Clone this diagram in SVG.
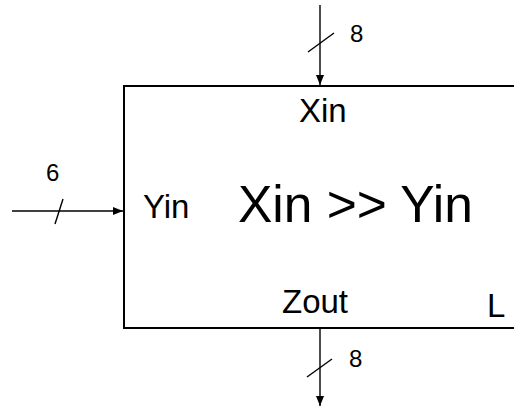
<svg xmlns="http://www.w3.org/2000/svg" width="514" height="406" viewBox="0 0 514 406">
<style>
text{font-family:"Liberation Sans",Arial,sans-serif;fill:#000}
.lbl{font-size:33px}
.big{font-size:51.5px}
.w{font-size:24px}
.wire{stroke:#000;stroke-width:1.4;fill:none}
.box{stroke:#000;stroke-width:2;fill:#fff}
</style>
<defs>
<marker id="ah" markerUnits="userSpaceOnUse" markerWidth="10" markerHeight="8" refX="10" refY="4" orient="auto">
<path d="M0,0 L10,4 L0,8 z" fill="#000"/>
</marker>
</defs>
<g id="shifter">
<rect class="box" x="124" y="86" width="400" height="242"/>
<text class="lbl" x="299" y="122">Xin</text>
<text class="lbl" x="143" y="218">Yin</text>
<text class="big" x="238" y="222">Xin &gt;&gt; Yin</text>
<text class="lbl" x="282" y="313">Zout</text>
<text class="lbl" x="487" y="317">L</text>
</g>
<g id="connectors">
<line class="wire" x1="320" y1="5" x2="320" y2="85" marker-end="url(#ah)"/>
<line class="wire" x1="308" y1="52" x2="334" y2="33"/>
<text class="w" x="350" y="42">8</text>
<line class="wire" x1="12" y1="211" x2="123" y2="211" marker-end="url(#ah)"/>
<line class="wire" x1="55" y1="224" x2="63" y2="199"/>
<text class="w" x="46" y="181">6</text>
<line class="wire" x1="320" y1="329" x2="320" y2="406" marker-end="url(#ah)"/>
<line class="wire" x1="307" y1="377" x2="332" y2="359"/>
<text class="w" x="349" y="367">8</text>
</g>
</svg>
